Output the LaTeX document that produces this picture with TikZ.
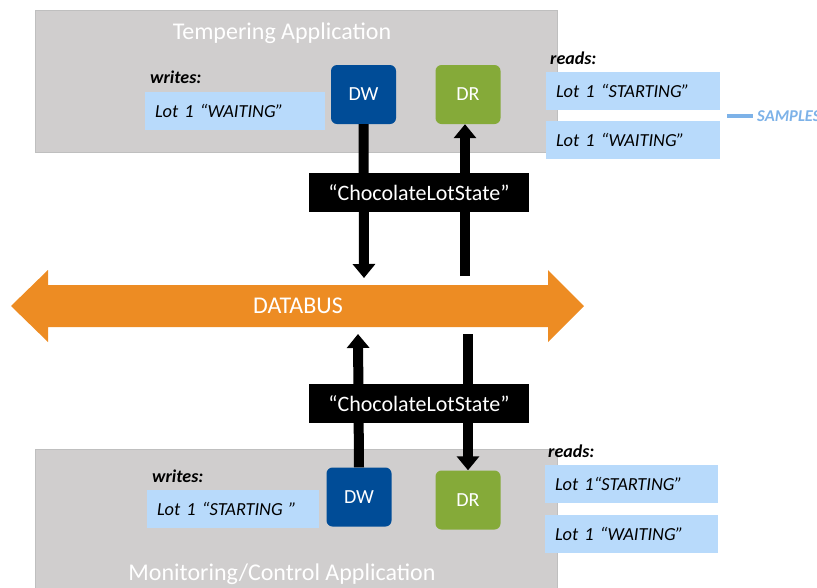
\documentclass[tikz,border=0pt]{standalone}
\usepackage{fontspec}
\setmainfont{Carlito}
\usetikzlibrary{arrows.meta}
\definecolor{appgray}{RGB}{208,206,206}
\definecolor{lotblue}{RGB}{184,218,251}
\definecolor{dwblue}{RGB}{0,76,151}
\definecolor{drgreen}{RGB}{133,170,57}
\definecolor{busorange}{RGB}{237,140,35}
\definecolor{sampleblue}{RGB}{125,178,232}
\begin{document}
\begin{tikzpicture}[x=1pt,y=-1pt,
    appbox/.style={fill=appgray,draw=black!25,line width=0.6pt,inner sep=0pt},
    apptitle/.style={text=white,font=\fontsize{24}{26}\selectfont},
    lotbox/.style={fill=lotblue,inner xsep=10pt,inner ysep=0pt,align=left,minimum height=38pt,font=\itshape\fontsize{18.4}{20}\selectfont},
    rwlabel/.style={anchor=base west,inner sep=0pt,font=\bfseries\itshape\fontsize{18}{20}\selectfont},
    entity/.style={rounded corners=6pt,minimum width=65pt,minimum height=59pt,inner sep=0pt,text=white,font=\fontsize{20}{22}\selectfont},
    topic/.style={fill=black,text=white,minimum width=220pt,minimum height=39pt,inner sep=0pt,font=\fontsize{22}{24}\selectfont},
    flow/.style={line width=10pt,-{Triangle[width=22pt,length=14pt]}}]
  \useasboundingbox (0,0) rectangle (817,587);
  % applications
  \node[appbox,minimum width=522pt,minimum height=142pt] (tempApp) at (296,81) {};
  \node[appbox,minimum width=522pt,minimum height=142pt] (monApp) at (296,520) {};
  \node[apptitle] (tempTitle) at (282,33) {Tempering Application};
  \node[apptitle] (monTitle) at (282,574) {Monitoring/Control Application};
  % writers and readers
  \node[entity,fill=dwblue] (dwTop) at (363.5,94.5) {DW};
  \node[entity,fill=drgreen] (drTop) at (468,94.5) {DR};
  \node[entity,fill=dwblue] (dwBot) at (359,497) {DW};
  \node[entity,fill=drgreen] (drBot) at (468,500) {DR};
  \node[rwlabel] (writesTop) at (150,83) {writes:};
  \node[lotbox,text width=160pt] (lotTop) at (235,111) {Lot 1 “WAITING”};
  \node[rwlabel] (writesBot) at (152,482) {writes:};
  \node[lotbox,text width=152pt] (lotBot) at (233,508.5) {Lot 1 “STARTING ”};
  % databus
  \fill[busorange] (11,306) -- (48,270) -- (48,285) -- (548,285) -- (548,270) -- (584,306)
    -- (548,342) -- (548,327) -- (48,327) -- (48,342) -- cycle;
  \node[text=white,font=\fontsize{24}{26}\selectfont] (bus) at (298,306) {DATABUS};
  \coordinate (busTL) at (364,278);
  \coordinate (busTR) at (465,276);
  \coordinate (busBL) at (358,334);
  \coordinate (busBR) at (468,334);
  \draw[flow] (dwTop.south) -- (busTL);
  \draw[flow] (busTR) -- (busTR |- drTop.south);
  \draw[flow] (dwBot.north) -- (busBL);
  \draw[flow] (busBR) -- (drBot.north);
  \node[topic] (topicTop) at (419,192.5) {“ChocolateLotState”};
  \node[topic] (topicBot) at (419,403.5) {“ChocolateLotState”};
  % samples read
  \node[rwlabel] (readsTop) at (550,64) {reads:};
  \node[lotbox,text width=154pt] (readTop1) at (633,90.5) {Lot 1 “STARTING”};
  \node[lotbox,text width=154pt] (readTop2) at (633,140) {Lot 1 “WAITING”};
  \node[rwlabel] (readsBot) at (548,457) {reads:};
  \node[lotbox,text width=153pt] (readBot1) at (631.5,484) {Lot 1“STARTING”};
  \node[lotbox,text width=153pt] (readBot2) at (631.5,534) {Lot 1 “WAITING”};
  \coordinate (sampStart) at (727,116);
  \node[anchor=west,inner sep=0pt,text=sampleblue,font=\bfseries\itshape\fontsize{16.5}{18}\selectfont] (samples) at (757,116) {SAMPLES};
  \draw[sampleblue,line width=3.5pt] (sampStart) -- (samples.west -| 753,0);
\end{tikzpicture}
\end{document}
